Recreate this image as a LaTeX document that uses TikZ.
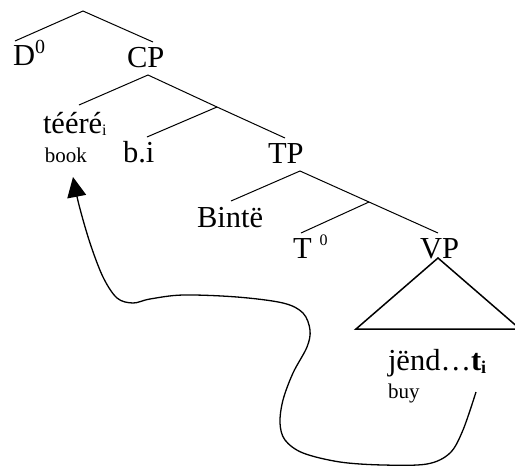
\documentclass[tikz,border=0pt]{standalone}
\usepackage{fontspec}
\setmainfont{Liberation Serif}
\usetikzlibrary{arrows.meta}
\newcommand{\bigtxt}{\fontsize{30.5}{30.5}\selectfont}
\newcommand{\smalltxt}{\fontsize{21}{21}\selectfont}
\newcommand{\subtxt}{\fontsize{16}{16}\selectfont}
\tikzset{
  lbl/.style={anchor=base west, inner sep=0pt, outer sep=0pt, font=\bigtxt},
  gloss/.style={anchor=base west, inner sep=0pt, outer sep=0pt, font=\smalltxt},
  branch/.style={line width=1pt},
  tri/.style={line width=1.5pt},
  movearrow/.style={line width=1.3pt, -{Triangle[length=20pt, width=19pt]}}
}
\begin{document}
\begin{tikzpicture}[x=1pt, y=-1pt]
\useasboundingbox (0,0) rectangle (515,467);
% text nodes
\node[lbl] (D0) at (13,65) {D\raisebox{12pt}{\fontsize{20}{20}\selectfont 0}};
\node[lbl] (CP) at (127,67) {CP};
\node[lbl] (teere) at (43,133) {tééré\raisebox{-2pt}{\subtxt i}};
\node[gloss] (book) at (45,162) {book};
\node[lbl] (bi) at (123,162) {b.i};
\node[lbl] (TP) at (268,163) {TP};
\node[lbl] (binte) at (197,227) {Bintë};
\node[lbl] (T0) at (293,258) {T\hspace{8pt}\raisebox{13pt}{\fontsize{16}{16}\selectfont 0}};
\node[lbl] (VP) at (420,258) {VP};
\node[lbl] (jend) at (388,370) {jënd…\textbf{t}\raisebox{-3pt}{\fontsize{18}{18}\selectfont\bfseries i}};
\node[gloss] (buy) at (388,398) {buy};
% tree coordinates
\coordinate (topapex) at (83,11);
\coordinate (dend) at (15,41);
\coordinate (cpend) at (153,42);
\coordinate (cpapex) at (148,75);
\coordinate (specend) at (79,105);
\coordinate (cbar) at (217,107);
\coordinate (biend) at (147,137);
\coordinate (tpend) at (285,138);
\coordinate (tpapex) at (300,171);
\coordinate (binteend) at (231,201);
\coordinate (tbar) at (369,202);
\coordinate (t0end) at (301,233);
\coordinate (vpend) at (438,233);
\coordinate (triapex) at (438,258);
\coordinate (trileft) at (356,329);
\coordinate (triright) at (520,329);
% branches
\draw[branch] (dend) -- (topapex) -- (cpend);
\draw[branch] (specend) -- (cpapex) -- (cbar) -- (tpend);
\draw[branch] (cbar) -- (biend);
\draw[branch] (binteend) -- (tpapex) -- (tbar) -- (vpend);
\draw[branch] (tbar) -- (t0end);
\draw[tri] (trileft) -- (triapex) -- (triright) -- cycle;
% movement arrow
\coordinate (tracept) at (476,392);
\coordinate (landing) at (73,177);
\draw[movearrow] plot[smooth, tension=0.55] coordinates {(tracept) (463,430) (450,453) (427,464) (383,465) (340,462) (303,453) (285,440) (280,423) (283,400) (293,373) (307,347) (310,330) (303,313) (283,303) (237,297) (183,295) (150,299) (133,303) (117,298) (103,277) (90,243) (79,205) (landing)};
\end{tikzpicture}
\end{document}
